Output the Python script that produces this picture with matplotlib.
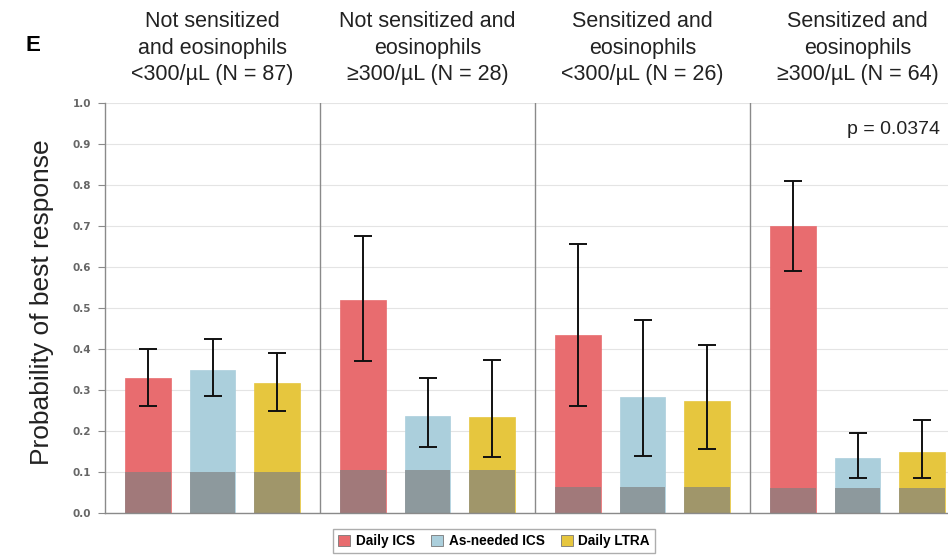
import matplotlib
matplotlib.use("Agg")
import matplotlib.pyplot as plt
from matplotlib.patches import Patch
import numpy as np

# Subgroups (panels)
groups = [
    "Not sensitized\nand eosinophils\n<300/\u00b5L (N = 87)",
    "Not sensitized and\neosinophils\n\u2265300/\u00b5L (N = 28)",
    "Sensitized and\neosinophils\n<300/\u00b5L (N = 26)",
    "Sensitized and\neosinophils\n\u2265300/\u00b5L (N = 64)",
]
treatments = ["Daily ICS", "As-needed ICS", "Daily LTRA"]

# Probability of best response, per treatment across the four subgroups
daily_ics = [0.33, 0.52, 0.435, 0.70]
asneeded_ics = [0.35, 0.237, 0.284, 0.135]
daily_ltra = [0.317, 0.235, 0.272, 0.15]

# 95% interval bounds
daily_ics_lo = [0.26, 0.37, 0.26, 0.59]
daily_ics_hi = [0.40, 0.675, 0.655, 0.81]
asneeded_ics_lo = [0.285, 0.16, 0.14, 0.085]
asneeded_ics_hi = [0.425, 0.33, 0.47, 0.195]
daily_ltra_lo = [0.25, 0.137, 0.155, 0.085]
daily_ltra_hi = [0.39, 0.373, 0.41, 0.227]

# Chance level (1 / number of eligible responses) shaded at the bar bases
chance = [0.10, 0.105, 0.064, 0.062]

p_text = "p = 0.0374"

values = [daily_ics, asneeded_ics, daily_ltra]
lows = [daily_ics_lo, asneeded_ics_lo, daily_ltra_lo]
highs = [daily_ics_hi, asneeded_ics_hi, daily_ltra_hi]
colors = ["#E86C6F", "#ABCFDC", "#E6C63E"]

sans = ["Liberation Sans", "DejaVu Sans"]

fig = plt.figure(figsize=(9.48, 5.55), dpi=100)
W, H = 948, 555
ax_left, ax_right = 105, 965
ax_bottom, ax_top = 513, 103
ax = fig.add_axes([ax_left / W, (H - ax_bottom) / H,
                   (ax_right - ax_left) / W, (ax_bottom - ax_top) / H])

offsets = [0.2, 0.5, 0.8]
width = 0.21
for t in range(3):
    for g in range(4):
        x = g + offsets[t]
        v = values[t][g]
        ax.bar(x, v, width=width, color=colors[t], edgecolor=colors[t],
               linewidth=0.5, zorder=2)
        ax.bar(x, chance[g], width=width, color="#808080", alpha=0.68,
               linewidth=0, zorder=3)
        ax.errorbar(x, v, yerr=[[v - lows[t][g]], [highs[t][g] - v]],
                    fmt="none", ecolor="#111111", elinewidth=1.4,
                    capsize=6.5, capthick=1.4, zorder=4)

ax.set_xlim(0, 4)
ax.set_ylim(0, 1.0)
ticks = np.arange(0, 1.01, 0.1)
ax.set_yticks(ticks)
ax.set_yticklabels([f"{v:.1f}" for v in ticks])
ax.set_xticks([])
ax.yaxis.grid(True, color="#e4e4e4", linewidth=0.8, zorder=0)
ax.set_axisbelow(True)
for g in range(1, 4):
    ax.axvline(g, color="#8a8a8a", linewidth=1.0, zorder=1)
for side in ["top", "right"]:
    ax.spines[side].set_visible(False)
for side in ["left", "bottom"]:
    ax.spines[side].set_color("#8a8a8a")
    ax.spines[side].set_linewidth(1.0)
ax.tick_params(axis="y", direction="out", length=5, color="#8a8a8a",
               labelsize=7.5, labelcolor="#666666", pad=5)
for lbl in ax.get_yticklabels():
    lbl.set_fontweight("bold")

ax.set_ylabel("Probability of best response", fontsize=19, family=sans,
              color="#222222")
ax.yaxis.set_label_coords((54 - ax_left) / (ax_right - ax_left),
                          (ax_bottom - 302) / (ax_bottom - ax_top))

for g, label in enumerate(groups):
    ax.text(g + 0.5, (ax_bottom - 85) / (ax_bottom - ax_top), label,
            ha="center", va="bottom", fontsize=15.5, family=sans,
            color="#222222", linespacing=1.34, clip_on=False)

ax.text((940 - ax_left) / 215, 0.935, p_text, ha="right", va="center",
        fontsize=14, family=sans, color="#222222")

fig.text(33 / W, 1 - 45 / H, "E", ha="center", va="center", fontsize=16,
         fontweight="bold", family=sans)

handles = [Patch(facecolor=c, edgecolor="#777777", linewidth=0.6)
           for c in colors]
fig.legend(handles, treatments, loc="center", ncol=3,
           bbox_to_anchor=(494 / W, 1 - 541 / H),
           frameon=True, edgecolor="#999999", fancybox=False,
           handlelength=0.9, handleheight=0.9, handletextpad=0.4,
           columnspacing=1.2, borderpad=0.35,
           prop={"family": sans, "weight": "bold", "size": 9.8})

fig.savefig("out.png", dpi=100)
